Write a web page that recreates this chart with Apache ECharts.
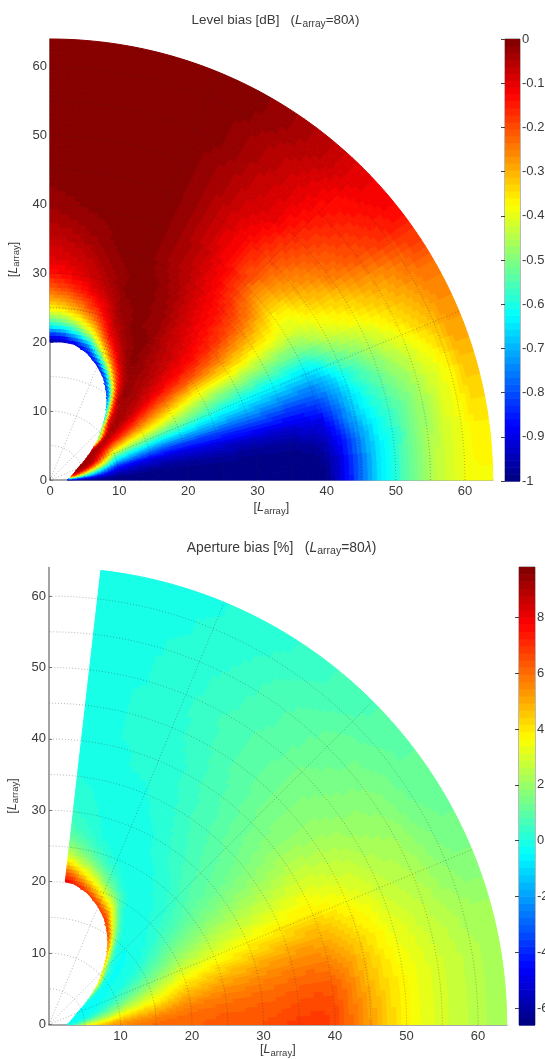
<!DOCTYPE html>
<html><head><meta charset="utf-8">
<style>html,body{margin:0;padding:0;background:#fff}#c{width:545px;height:1059px}</style>
<script src="https://cdn.jsdelivr.net/npm/echarts@6/dist/echarts.min.js"></script></head>
<body><div id="c"></div><script>
const _ = null;
/* Values. Each row is one ray (angle in degrees); each entry is the value at the radius in ringStarts. */
const ringStarts = [2.5,4,5,6,7,8,9, 10,11,12,13,14,15,16,17,18,19, 20,21,22,23,24,25,26,27,28, 30,32,34,36,38,40, 42,44,46,48,50,52,54,56,58,60,62];
const ringEnd = 64;
const tickValues = [0,10,20,30,40,50,60];
const xTicksLower = [10,20,30,40,50,60];

const levelAngles = [0,4,8,12,16,20,24,28,32,36,40,45,50,56,62,68,74,80,85,90];
const levelHole = [2.5,2.8,3.0,3.3,3.6,4.0,4.5,5.4,6.4,7.6,9.0,10.6,12.6,14.7,16.6,18,19.2,20,20.1,20];
const level00 = [-1,-1,-1,-1,-1,-1,-1, -1,-1,-1,-1,-1,-1,-1,-1,-1,-1, -1,-1,-1,-1,-1,-1,-1,-1,-1, -1,-1,-1,-1,-1,-.99, -.92,-.83,-.72,-.64,-.59,-.53,-.48,-.44,-.41,-.39,-.38];
const level04 = [-.65,-.8,-.86,-.9,-.93,-.95,-.97, -.98,-.98,-.99,-.99,-1,-1,-1,-1,-1,-1, -1,-1,-1,-1,-1,-1,-1,-1,-1, -1,-1,-1,-1,-1,-.98, -.92,-.82,-.72,-.64,-.59,-.53,-.48,-.44,-.41,-.39,-.37];
const level08 = [-.25,-.45,-.55,-.65,-.75,-.82,-.88, -.92,-.93,-.94,-.95,-.95,-.96,-.96,-.97,-.97,-.97, -.97,-.97,-.97,-.97,-.97,-.97,-.97,-.97,-.98, -.98,-.98,-.98,-.98,-.97,-.95, -.88,-.8,-.71,-.63,-.59,-.54,-.49,-.45,-.41,-.39,-.36];
const level12 = [-.1,-.2,-.33,-.45,-.56,-.66,-.76, -.84,-.85,-.87,-.88,-.89,-.9,-.9,-.9,-.91,-.91, -.91,-.91,-.91,-.91,-.91,-.91,-.92,-.92,-.92, -.92,-.92,-.92,-.92,-.91,-.9, -.83,-.74,-.66,-.61,-.57,-.53,-.49,-.45,-.41,-.38,-.34];
const level16 = [-.05,-.08,-.15,-.25,-.36,-.46,-.58, -.68,-.7,-.72,-.74,-.76,-.77,-.78,-.79,-.8,-.8, -.8,-.8,-.8,-.8,-.8,-.8,-.8,-.8,-.8, -.8,-.81,-.82,-.83,-.83,-.82, -.77,-.7,-.63,-.58,-.54,-.5,-.47,-.43,-.4,-.37,-.32];
const level20 = [_,-.04,-.05,-.1,-.2,-.3,-.42, -.55,-.57,-.59,-.6,-.61,-.62,-.63,-.64,-.64,-.64, -.64,-.65,-.65,-.66,-.66,-.66,-.67,-.67,-.68, -.68,-.69,-.7,-.71,-.72,-.73, -.7,-.64,-.58,-.54,-.5,-.46,-.43,-.4,-.37,-.33,-.29];
const level24 = [_,-.03,-.03,-.04,-.09,-.18,-.28, -.39,-.41,-.43,-.45,-.46,-.47,-.48,-.49,-.5,-.5, -.5,-.51,-.52,-.53,-.54,-.55,-.56,-.57,-.57, -.58,-.59,-.6,-.6,-.61,-.62, -.6,-.54,-.5,-.47,-.44,-.41,-.38,-.35,-.32,-.3,-.27];
const level28 = [_,_,-.04,-.03,-.05,-.1,-.17, -.26,-.28,-.3,-.32,-.33,-.34,-.35,-.36,-.37,-.38, -.4,-.41,-.42,-.43,-.44,-.45,-.45,-.46,-.46, -.46,-.47,-.48,-.49,-.5,-.5, -.48,-.44,-.41,-.39,-.37,-.35,-.33,-.31,-.29,-.27,-.25];
const level32 = [_,_,_,-.06,-.03,-.05,-.09, -.13,-.15,-.17,-.19,-.21,-.23,-.24,-.26,-.27,-.28, -.29,-.3,-.31,-.32,-.33,-.33,-.34,-.34,-.34, -.34,-.35,-.37,-.38,-.39,-.41, -.41,-.38,-.36,-.34,-.32,-.3,-.28,-.27,-.25,-.23,-.21];
const level36 = [_,_,_,_,-.15,-.05,-.05, -.06,-.07,-.09,-.1,-.12,-.13,-.15,-.16,-.17,-.18, -.19,-.19,-.2,-.2,-.2,-.21,-.21,-.22,-.22, -.24,-.26,-.28,-.3,-.33,-.37, -.36,-.33,-.3,-.28,-.25,-.23,-.21,-.2,-.18,-.17,-.15];
const level40 = [_,_,_,_,_,_,-.5, -.2,-.05,-.03,-.04,-.05,-.06,-.07,-.08,-.09,-.1, -.11,-.11,-.12,-.12,-.13,-.13,-.14,-.14,-.15, -.16,-.18,-.2,-.22,-.26,-.3, -.29,-.27,-.25,-.23,-.21,-.2,-.18,-.17,-.15,-.14,-.12];
const level45 = [_,_,_,_,_,_,_, -.8,-.35,-.13,-.06,-.04,-.04,-.04,-.04,-.05,-.05, -.06,-.06,-.07,-.07,-.08,-.08,-.09,-.09,-.1, -.12,-.13,-.14,-.16,-.19,-.21, -.21,-.2,-.19,-.18,-.16,-.15,-.14,-.13,-.125,-.11,-.1];
const level50 = [_,_,_,_,_,_,_, _,_,-.9,-.45,-.2,-.08,-.03,-.02,-.02,-.03, -.03,-.03,-.04,-.04,-.05,-.05,-.06,-.06,-.07, -.08,-.09,-.1,-.11,-.12,-.13, -.14,-.14,-.13,-.12,-.1,-.1,-.09,-.09,-.08,-.07,-.06];
const level56 = [_,_,_,_,_,_,_, _,_,_,_,-1,-.75,-.42,-.2,-.11,-.05, -.02,-.01,-.01,-.01,-.01,-.01,-.02,-.02,-.02, -.03,-.04,-.05,-.06,-.07,-.07, -.08,-.08,-.08,-.07,-.07,-.06,-.06,-.05,-.05,-.04,-.03];
const level62 = [_,_,_,_,_,_,_, _,_,_,_,_,_,-1,-.75,-.45,-.25, -.14,-.08,-.05,-.03,-.02,-.01,-.01,-.01,-.01, -.01,-.01,-.02,-.03,-.03,-.03, -.03,-.03,-.03,-.03,-.03,-.03,-.02,-.02,-.02,-.01,-.01];
const level68 = [_,_,_,_,_,_,_, _,_,_,_,_,_,_,_,-.9,-.62, -.42,-.28,-.18,-.12,-.08,-.06,-.04,-.03,-.02, -.01,-.01,0,0,0,0, 0,0,0,0,0,0,0,0,0,0,0];
const level74 = [_,_,_,_,_,_,_, _,_,_,_,_,_,_,_,_,-.9, -.78,-.58,-.42,-.32,-.24,-.18,-.14,-.11,-.08, -.05,-.03,-.02,-.01,-.01,0, 0,0,0,0,0,0,0,0,0,0,0];
const level80 = [_,_,_,_,_,_,_, _,_,_,_,_,_,_,_,_,_, -.92,-.74,-.57,-.45,-.36,-.28,-.23,-.18,-.14, -.09,-.07,-.05,-.03,-.02,-.01, 0,0,0,0,0,0,0,0,0,0,0];
const level85 = [_,_,_,_,_,_,_, _,_,_,_,_,_,_,_,_,_, -.95,-.84,-.65,-.52,-.42,-.34,-.28,-.23,-.18, -.12,-.09,-.07,-.05,-.03,-.02, -.01,0,0,0,0,0,0,0,0,0,0];
const level90 = [_,_,_,_,_,_,_, _,_,_,_,_,_,_,_,_,_, -.97,-.88,-.68,-.55,-.45,-.37,-.31,-.26,-.21, -.14,-.1,-.08,-.06,-.04,-.03, -.02,-.01,0,0,0,0,0,0,0,0,0];
const levelRows = [level00,level04,level08,level12,level16,level20,level24,level28,level32,level36,level40,level45,level50,level56,level62,level68,level74,level80,level85,level90];

const apAngles = [0,4,8,12,16,20,24,28,32,36,40,45,50,56,62,68,74,80,83.5];
const apHole = [2.5,2.8,3.0,3.3,3.6,4.0,4.5,5.4,6.4,7.6,9.0,10.6,12.6,14.7,16.6,18,19.2,20,20.1];
const ap00 = [-.4,1,3,3.8,4.4,4.9,5.3, 5.6,5.7,5.8,5.9,6,6,6.1,6.1,6.2,6.2, 6.2,6.2,6.3,6.3,6.3,6.3,6.4,6.4,6.4, 6.5,6.6,6.8,6.9,6.9,6.7, 6.1,5.5,4.9,4.3,3.8,3.4,3.1,2.9,2.7,2.5,2.3];
const ap04 = [-.4,.2,1.5,2.4,3,3.6,4.2, 4.7,5,5.2,5.4,5.5,5.7,5.8,5.9,5.9,6, 6,6.1,6.1,6.1,6.2,6.2,6.2,6.2,6.3, 6.3,6.4,6.5,6.6,6.7,6.6, 6,5.4,4.8,4.2,3.8,3.4,3.1,2.9,2.7,2.5,2.3];
const ap08 = [-.4,-.2,.4,1,1.7,2.3,2.9, 3.5,3.9,4.2,4.4,4.6,4.8,5,5.2,5.4,5.5, 5.7,5.7,5.8,5.8,5.9,5.9,5.9,6,6, 6.1,6.1,6.2,6.3,6.4,6.3, 5.8,5.2,4.6,4.1,3.7,3.4,3.1,2.9,2.7,2.5,2.3];
const ap12 = [-.4,-.4,-.2,.1,.6,1.2,1.7, 2.3,2.7,3,3.3,3.6,3.8,4,4.3,4.5,4.8, 5,5,5.1,5.2,5.3,5.4,5.4,5.5,5.5, 5.6,5.7,5.8,5.9,5.9,5.8, 5.4,4.9,4.4,3.9,3.5,3.3,3,2.8,2.6,2.4,2.3];
const ap16 = [-.5,-.4,-.4,-.2,0,.4,.9, 1.3,1.7,2.1,2.4,2.7,3,3.2,3.5,3.8,4, 4.2,4.3,4.4,4.5,4.6,4.7,4.7,4.8,4.8, 5,5.1,5.2,5.3,5.3,5.2, 4.9,4.5,4.1,3.7,3.3,3.1,2.8,2.6,2.4,2.2,2.1];
const ap20 = [_,-.45,-.4,-.3,-.2,0,.2, .6,.9,1.2,1.5,1.8,2.1,2.4,2.7,2.9,3.2, 3.4,3.5,3.6,3.7,3.8,3.9,3.9,4,4, 4.2,4.3,4.4,4.5,4.6,4.6, 4.3,4,3.7,3.4,3,2.8,2.6,2.4,2.1,1.9,1.8];
const ap24 = [_,-.45,-.4,-.35,-.3,-.2,-.05, .1,.3,.6,.9,1.1,1.4,1.6,1.9,2.1,2.4, 2.6,2.7,2.8,2.9,3,3.1,3.1,3.2,3.3, 3.4,3.5,3.6,3.7,3.8,3.8, 3.6,3.5,3.2,3,2.7,2.5,2.4,2.2,1.9,1.7,1.5];
const ap28 = [_,_,-.3,-.35,-.3,-.25,-.2, -.1,0,.1,.3,.5,.8,1,1.2,1.4,1.6, 1.9,2,2.1,2.2,2.3,2.4,2.5,2.6,2.6, 2.7,2.8,2.9,3,3.1,3.2, 3.1,2.9,2.8,2.7,2.4,2.3,2.2,2,1.7,1.5,1.35];
const ap32 = [_,_,_,.5,-.1,-.25,-.25, -.2,-.15,-.1,0,.1,.3,.5,.7,.9,1.1, 1.3,1.4,1.5,1.6,1.7,1.8,1.9,2,2, 2.1,2.2,2.3,2.4,2.5,2.6, 2.6,2.5,2.4,2.3,2.1,2,1.9,1.8,1.5,1.3,1.2];
const ap36 = [_,_,_,_,5,.8,-.1, -.25,-.25,-.2,-.15,-.1,0,.1,.3,.4,.6, .8,.9,1,1.1,1.2,1.3,1.4,1.4,1.5, 1.6,1.7,1.8,1.9,2,2.1, 2.1,2,2,1.9,1.8,1.8,1.7,1.6,1.4,1.2,1.1];
const ap40 = [_,_,_,_,_,_,4, .6,-.1,-.25,-.25,-.2,-.15,-.1,0,.1,.2, .4,.5,.6,.7,.8,.9,1,1.1,1.1, 1.2,1.3,1.4,1.5,1.6,1.7, 1.7,1.7,1.7,1.7,1.6,1.5,1.4,1.4,1.2,1.1,1];
const ap45 = [_,_,_,_,_,_,_, 6,2.5,.5,-.1,-.2,-.2,-.15,-.1,-.05,0, .1,.15,.2,.3,.4,.5,.6,.7,.8, .9,1,1.1,1.2,1.3,1.3, 1.4,1.4,1.4,1.4,1.4,1.3,1.2,1.2,1.1,.9,.8];
const ap50 = [_,_,_,_,_,_,_, _,_,6.5,3.5,1.2,.2,-.1,-.15,-.15,-.1, -.05,-.05,0,.1,.15,.2,.3,.4,.5, .6,.7,.8,.9,.9,1, 1,1.1,1.1,1.1,1,1,1,.9,.8,.7,.6];
const ap56 = [_,_,_,_,_,_,_, _,_,_,_,7,6,3,1.3,.3,-.05, -.15,-.15,-.15,-.1,-.05,0,.05,.1,.2, .3,.4,.5,.6,.6,.7, .7,.8,.8,.8,.8,.7,.7,.7,.6,.5,.35];
const ap62 = [_,_,_,_,_,_,_, _,_,_,_,_,_,7.5,6.5,4.5,3, 1.5,.6,.1,-.05,-.1,-.1,-.1,-.05,-.05, 0,.1,.15,.2,.3,.3, .35,.4,.45,.5,.5,.45,.4,.35,.3,.2,.15];
const ap68 = [_,_,_,_,_,_,_, _,_,_,_,_,_,_,_,7,5, 3.4,2.2,1.2,.6,.2,0,-.05,-.1,-.1, -.1,-.05,0,.05,.1,.15, .15,.2,.2,.2,.2,.2,.2,.15,.1,.1,.05];
const ap74 = [_,_,_,_,_,_,_, _,_,_,_,_,_,_,_,_,7.5, 5.5,4,2.8,1.8,1.1,.6,.3,.1,0, -.05,-.05,-.05,0,.05,.05, .1,.1,.1,.1,.05,.05,.05,.05,0,0,0];
const ap80 = [_,_,_,_,_,_,_, _,_,_,_,_,_,_,_,_,_, 7.5,6,4.5,3.2,2.2,1.5,1,.6,.4, .2,.1,.05,0,0,0, 0,0,0,0,0,0,0,0,0,0,0];
const ap83 = [_,_,_,_,_,_,_, _,_,_,_,_,_,_,_,_,_, 8.3,7,5.5,4,2.8,2,1.4,1,.7, .4,.2,.1,.05,.05,.05, .05,.05,.05,.05,.05,.05,.05,.05,.05,.05,.05];
const apRows = [ap00,ap04,ap08,ap12,ap16,ap20,ap24,ap28,ap32,ap36,ap40,ap45,ap50,ap56,ap62,ap68,ap74,ap80,ap83];

const levelRange = [-1,0];
const apRange = [-6.6,9.8];
const levelBarTicks = [-1,-.9,-.8,-.7,-.6,-.5,-.4,-.3,-.2,-.1,0];
const apBarTicks = [-6,-4,-2,0,2,4,6,8];
const arcRadii = [5,10,15,20,25,30,35,40,45,50,55,60];
const spokeAngles = [22.5,45,67.5];
const COLOR_STEPS = 64;

function clamp01(v){return Math.max(0,Math.min(1,v));}
function jet(t){
  t=(Math.min(COLOR_STEPS-1,Math.floor(clamp01(t)*COLOR_STEPS))+.5)/COLOR_STEPS;
  const r=clamp01(Math.min(4*t-1.5,4.5-4*t)),g=clamp01(Math.min(4*t-.5,3.5-4*t)),b=clamp01(Math.min(4*t+.5,2.5-4*t));
  return 'rgb('+Math.round(r*255)+','+Math.round(g*255)+','+Math.round(b*255)+')';
}
const rad=d=>d*Math.PI/180;
const ringOuter=j=>j+1<ringStarts.length?ringStarts[j+1]:ringEnd;
/* Series data = the values, one item per [ray, ring, value]. */
function cellData(angles,hole,rows){
  const out=[];
  for(let i=0;i<angles.length-1;i++) for(let j=0;j<ringStarts.length;j++){
    if(ringOuter(j)<=Math.min(hole[i],hole[i+1])) continue;
    const v=rows[i][j];
    out.push([i,j,v===null?NaN:v]);
  }
  return out;
}
function along(row,r){
  let first=0; while(row[first]===null) first++;
  if(r<=ringStarts[first]) return row[first];
  for(let j=first;j<ringStarts.length-1;j++){
    if(r<=ringStarts[j+1]){const w=(r-ringStarts[j])/(ringStarts[j+1]-ringStarts[j]);return row[j]+(row[j+1]-row[j])*w;}
  }
  return row[row.length-1];
}
/* Display shading only (like MATLAB "shading interp"): each read cell is painted with a colour ramp towards its neighbours. */
function heatRender(angles,hole,rows,range){
  return function(params,api){
    const i=api.value(0),j=api.value(1);
    const t0=angles[i],t1=angles[i+1],ro=ringOuter(j),ri=ringStarts[j];
    const nt=Math.ceil((t1-t0)/1.0),nr=(ro-ri)<=1.5?2:3;
    const P=(r,t)=>api.coord([r*Math.cos(rad(t)),r*Math.sin(rad(t))]);
    const holeAt=w=>hole[i]+(hole[i+1]-hole[i])*w;
    const valueAt=(r,w)=>{
      const hb=holeAt(w),fade=clamp01(1-(r-hb)/14);
      const a=along(rows[i],r+fade*(hole[i]-hb)),b=along(rows[i+1],r+fade*(hole[i+1]-hb));
      return a+(b-a)*w;
    };
    const kids=[];
    for(let a=0;a<nt;a++){
      const w0=a/nt,w1=(a+1)/nt,ta=t0+(t1-t0)*w0,tb=t0+(t1-t0)*w1,h0=holeAt(w0),h1=holeAt(w1);
      for(let b=0;b<nr;b++){
        const r0=ri+(ro-ri)*b/nr,r1=ri+(ro-ri)*(b+1)/nr;
        if(r1<=Math.min(h0,h1)) continue;
        const ia=Math.min(r1,Math.max(r0,h0)),ib=Math.min(r1,Math.max(r0,h1));
        const v=valueAt((Math.max(r0,(h0+h1)/2)+r1)/2,(w0+w1)/2);
        const c=jet((v-range[0])/(range[1]-range[0]));
        kids.push({type:'polygon',shape:{points:[P(ia,ta),P(ib,tb),P(r1,tb),P(r1,ta)]},style:{fill:c,stroke:c,lineWidth:1}});
      }
    }
    return {type:'group',children:kids};
  };
}
function guideRender(params,api){
  const kind=api.value(0),v=api.value(1),pts=[];
  if(kind===0){for(let t=0;t<=90;t+=2)pts.push(api.coord([v*Math.cos(rad(t)),v*Math.sin(rad(t))]));}
  else{pts.push(api.coord([0,0]));pts.push(api.coord([64*Math.cos(rad(v)),64*Math.sin(rad(v))]));}
  return {type:'polyline',shape:{points:pts},style:{fill:null,stroke:'rgba(40,40,40,.42)',lineWidth:.8,lineDash:[1,2]}};
}
const guideData=arcRadii.map(r=>[0,r]).concat(spokeAngles.map(a=>[1,a]));
function barData(range){
  const out=[];
  for(let k=0;k<COLOR_STEPS;k++){
    const s=(range[1]-range[0])/COLOR_STEPS;
    out.push([range[0]+k*s,range[0]+(k+1)*s,(k+.5)/COLOR_STEPS]);
  }
  return out;
}
function barRender(params,api){
  const a=api.coord([0,api.value(0)]),b=api.coord([1,api.value(1)]);
  return {type:'rect',shape:{x:a[0],y:b[1],width:b[0]-a[0],height:a[1]-b[1]+.6},style:{fill:jet(api.value(2))}};
}
const TXT='#3a3a3a',FONT='"Liberation Sans",Arial,sans-serif';
function richAt(size){
  return {
    a:{fontFamily:FONT,fontSize:size,fontWeight:'normal',color:TXT},
    i:{fontFamily:FONT,fontSize:size,fontWeight:'normal',color:TXT,fontStyle:'italic'},
    s:{fontFamily:FONT,fontSize:size*.76,fontWeight:'normal',color:TXT,padding:[7,0,0,0]}
  };
}
const nameLabel='{a|[}{i|L}{s|array}{a|]}';
function plotAxis(dim,gi,ticks,gap){
  return {type:'value',gridIndex:gi,min:0,max:64,position:dim==='x'?'bottom':'left',
    name:nameLabel,nameLocation:'middle',nameGap:gap,nameRotate:dim==='x'?0:90,nameTextStyle:{rich:richAt(12.5)},
    splitLine:{show:false},
    axisLine:{show:true,onZero:false,lineStyle:{color:'#8d8d8d',width:1.6}},
    axisTick:{show:true,inside:true,length:3,lineStyle:{color:'#777'},customValues:ticks},
    axisLabel:{color:TXT,fontFamily:FONT,fontSize:13,margin:dim==='x'?5:3,customValues:ticks}};
}
function barX(gi){return {type:'value',gridIndex:gi,min:0,max:1,show:false};}
function barY(gi,range,ticks){
  return {type:'value',gridIndex:gi,min:range[0],max:range[1],position:'right',splitLine:{show:false},
    axisLine:{show:false},
    axisTick:{show:true,inside:true,length:4,lineStyle:{color:'#444'},customValues:ticks},
    axisLabel:{color:TXT,fontFamily:FONT,fontSize:13,margin:2,customValues:ticks}};
}
const levelTitle='{a|Level bias [dB]   (}{i|L}{s|array}{a|=80}{i|λ}{a|)}';
const apTitle='{a|Aperture bias [%]   (}{i|L}{s|array}{a|=80}{i|λ}{a|)}';
const noBounds={outerBoundsMode:'none',containLabel:false};
const option={
  animation:false,backgroundColor:'#fff',
  title:[
    {text:levelTitle,left:270.5,top:7,textAlign:'center',textStyle:{rich:richAt(13.4),fontWeight:'normal'}},
    {text:apTitle,left:276.5,top:534,textAlign:'center',textStyle:{rich:richAt(13.9),fontWeight:'normal'}}
  ],
  grid:[
    Object.assign({left:50,top:39,width:442.7,height:441},noBounds),
    Object.assign({left:505,top:39,width:15,height:442,show:true,borderColor:'#777',borderWidth:1,backgroundColor:'transparent'},noBounds),
    Object.assign({left:49,top:567.5,width:457.7,height:457},noBounds),
    Object.assign({left:519,top:567,width:16,height:458,show:true,borderColor:'#777',borderWidth:1,backgroundColor:'transparent'},noBounds)
  ],
  xAxis:[plotAxis('x',0,tickValues,19),barX(1),plotAxis('x',2,xTicksLower,17),barX(3)],
  yAxis:[plotAxis('y',0,tickValues,23),barY(1,levelRange,levelBarTicks),plotAxis('y',2,tickValues,23),barY(3,apRange,apBarTicks)],
  series:[
    {type:'custom',name:'Level bias',xAxisIndex:0,yAxisIndex:0,z:2,silent:true,clip:false,renderItem:heatRender(levelAngles,levelHole,levelRows,levelRange),data:cellData(levelAngles,levelHole,levelRows)},
    {type:'custom',xAxisIndex:0,yAxisIndex:0,z:3,silent:true,clip:false,renderItem:guideRender,data:guideData},
    {type:'custom',xAxisIndex:1,yAxisIndex:1,z:2,silent:true,renderItem:barRender,data:barData(levelRange)},
    {type:'custom',name:'Aperture bias',xAxisIndex:2,yAxisIndex:2,z:2,silent:true,clip:false,renderItem:heatRender(apAngles,apHole,apRows,apRange),data:cellData(apAngles,apHole,apRows)},
    {type:'custom',xAxisIndex:2,yAxisIndex:2,z:3,silent:true,clip:false,renderItem:guideRender,data:guideData},
    {type:'custom',xAxisIndex:3,yAxisIndex:3,z:2,silent:true,renderItem:barRender,data:barData(apRange)}
  ]
};
echarts.init(document.getElementById('c'),null,{renderer:'canvas'}).setOption(option);
</script></body></html>
